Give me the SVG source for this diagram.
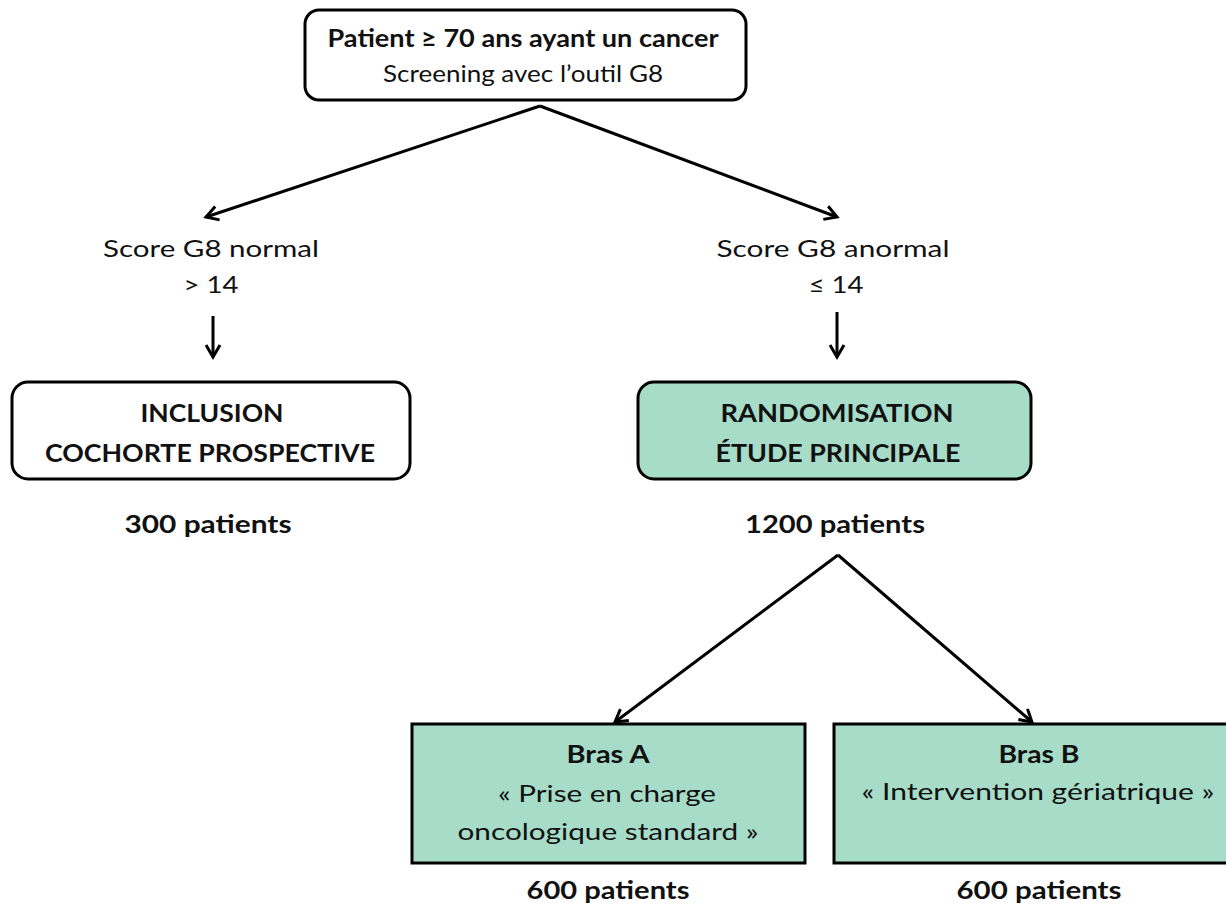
<svg xmlns="http://www.w3.org/2000/svg" width="1226" height="906" viewBox="0 0 1226 906">
<defs>
<marker id="arr" markerWidth="18" markerHeight="18" refX="15" refY="9" orient="auto" markerUnits="userSpaceOnUse">
<path d="M3,2 L15,9 L3,16" fill="none" stroke="#000" stroke-width="3"/>
</marker>
<style>
.box{fill:#fff;stroke:#000;stroke-width:3}
.gbox{fill:#a6dcc8;stroke:#000;stroke-width:3}
.t{font-family:Lato,"Liberation Sans",sans-serif;font-size:24px;fill:#111;text-anchor:middle}
.b{font-weight:bold}
.c{stroke:#000;stroke-width:3;fill:none;marker-end:url(#arr)}
</style>
</defs>
<rect width="1226" height="906" fill="#fff"/>
<g id="connectors">
<line class="c" x1="540" y1="106" x2="206" y2="217"/>
<line class="c" x1="540" y1="106" x2="837" y2="217"/>
<line class="c" x1="213" y1="316" x2="213" y2="357"/>
<line class="c" x1="837" y1="312" x2="837" y2="357"/>
<line class="c" x1="838" y1="555" x2="615" y2="722"/>
<line class="c" x1="838" y1="555" x2="1032" y2="722"/>
</g>
<g id="top">
<rect class="box" x="305" y="10" width="441" height="90" rx="14"/>
<text class="t b" x="523" y="47" textLength="391" lengthAdjust="spacingAndGlyphs">Patient ≥ 70 ans ayant un cancer</text>
<text class="t" x="523" y="82" textLength="280" lengthAdjust="spacingAndGlyphs">Screening avec l’outil G8</text>
</g>
<g id="normal">
<text class="t" x="211" y="257" textLength="216" lengthAdjust="spacingAndGlyphs">Score G8 normal</text>
<text class="t" x="211" y="293" textLength="55" lengthAdjust="spacingAndGlyphs">&gt; 14</text>
</g>
<g id="anormal">
<text class="t" x="833" y="257" textLength="233" lengthAdjust="spacingAndGlyphs">Score G8 anormal</text>
<text class="t" x="836" y="293" textLength="55" lengthAdjust="spacingAndGlyphs">≤ 14</text>
</g>
<g id="inclusion">
<rect class="box" x="12" y="382" width="398" height="97" rx="16"/>
<text class="t b" x="212" y="422" textLength="143" lengthAdjust="spacingAndGlyphs">INCLUSION</text>
<text class="t b" x="210" y="462" textLength="330" lengthAdjust="spacingAndGlyphs">COCHORTE PROSPECTIVE</text>
<text class="t b" x="208" y="533" textLength="167" lengthAdjust="spacingAndGlyphs">300 patients</text>
</g>
<g id="randomisation">
<rect class="gbox" x="638" y="382" width="393" height="97" rx="16"/>
<text class="t b" x="837" y="422" textLength="233" lengthAdjust="spacingAndGlyphs">RANDOMISATION</text>
<text class="t b" x="838" y="462" textLength="245" lengthAdjust="spacingAndGlyphs">ÉTUDE PRINCIPALE</text>
<text class="t b" x="835" y="533" textLength="180" lengthAdjust="spacingAndGlyphs">1200 patients</text>
</g>
<g id="brasA">
<rect class="gbox" x="412" y="724" width="393" height="139"/>
<text class="t b" x="608" y="763" textLength="83" lengthAdjust="spacingAndGlyphs">Bras A</text>
<text class="t" x="607" y="802" textLength="218" lengthAdjust="spacingAndGlyphs">« Prise en charge</text>
<text class="t" x="608" y="840" textLength="301" lengthAdjust="spacingAndGlyphs">oncologique standard »</text>
<text class="t b" x="608" y="899" textLength="163" lengthAdjust="spacingAndGlyphs">600 patients</text>
</g>
<g id="brasB">
<rect class="gbox" x="834" y="724" width="394" height="139"/>
<text class="t b" x="1039" y="763" textLength="81" lengthAdjust="spacingAndGlyphs">Bras B</text>
<text class="t" x="1038" y="800" textLength="353" lengthAdjust="spacingAndGlyphs">« Intervention gériatrique »</text>
<text class="t b" x="1039" y="899" textLength="165" lengthAdjust="spacingAndGlyphs">600 patients</text>
</g>
</svg>
